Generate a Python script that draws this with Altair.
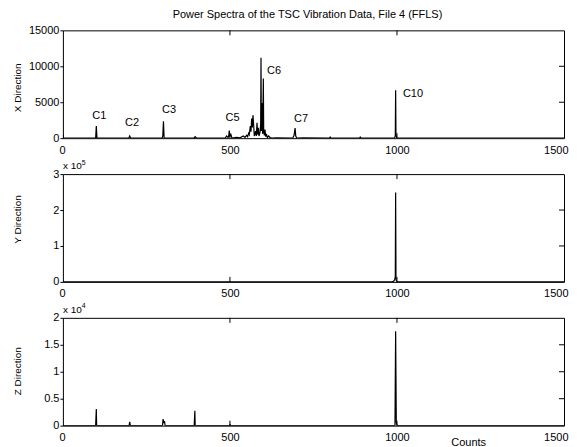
import altair as alt
import pandas as pd

FONT = "Liberation Sans"
W = 502
H = 108

title_text = ["Power Spectra of the TSC Vibration Data, File 4 (FFLS)"]

# X direction spectrum (counts, power)
x_freq = [0, 1, 3, 98, 100, 102, 197, 200, 203, 297, 299, 301, 303, 392, 396, 400,
          486, 490, 494, 496, 498, 500, 503, 506, 520, 530, 540, 545, 550, 553, 556,
          558, 561, 563, 565, 567, 569, 571, 573, 575, 577, 579, 581, 583, 585, 587,
          590, 592, 593, 594, 596, 597, 598, 600, 601, 603, 605, 607, 609, 612, 616,
          620, 625, 640, 688, 692, 695, 697, 700, 720, 798, 800, 802, 888, 890, 892,
          993, 995, 996, 997, 999, 1002, 1500]
x_power = [500, 100, 0, 0, 1700, 0, 0, 300, 0, 0, 300, 2350, 0, 0, 200, 0,
           0, 300, 100, 200, 1070, 300, 500, 0, 100, 50, 300, 100, 400, 200, 700,
           500, 1670, 900, 2740, 1500, 3200, 1800, 300, 600, 970, 300, 2130, 500, 1430, 300,
           800, 2000, 11200, 1000, 4900, 1500, 600, 8290, 1000, 400, 1200, 200, 600, 100, 300,
           100, 0, 50, 0, 400, 1400, 300, 0, 50, 0, 150, 0, 0, 150, 0,
           0, 400, 6670, 500, 100, 0, 0]

# Y direction spectrum
y_freq = [0, 985, 990, 993, 995, 996, 997, 998, 1000, 1005, 1500]
y_power = [0, 0, 2000, 6000, 15000, 249000, 12000, 4000, 1000, 0, 0]

# Z direction spectrum
z_freq = [0, 98, 100, 101, 198, 200, 202, 298, 300, 302, 304, 306, 393, 395, 396,
          498, 500, 502, 994, 996, 998, 1001, 1500]
z_power = [0, 0, 3075, 0, 0, 680, 0, 0, 1230, 500, 860, 0, 0, 2770, 0,
           0, 200, 0, 0, 17500, 500, 0, 0]

# peak labels in the X panel
peak_labels = ["C1", "C2", "C3", "C5", "C6", "C7", "C10"]
peak_label_x = [109, 207, 318, 508, 632, 713, 1048]
peak_label_y = [3150, 2080, 3900, 2860, 9350, 2600, 6160]

x_ticks = [0, 500, 1000, 1500]
x_inner_ticks = [500, 1000]


def panel(freq, power, ydom, yvals, yinner, yexpr, ytitle, ytitle_y, xtitle=None,
          exponent=None, labels=None, title=None):
    df = pd.DataFrame({"f": freq, "p": power})
    xs = alt.Scale(domain=[0, 1500], nice=False, zero=False)
    ys = alt.Scale(domain=ydom, nice=False, zero=False)
    xa = dict(values=x_ticks, format="d", tickSize=0, labelPadding=6,
              labelFlush=True, labelFlushOffset=4, grid=False, domain=False,
              labelFontSize=11, labelColor="black", labelFont=FONT,
              labelOverlap=False)
    if xtitle:
        xa.update(title=xtitle, titleX=406, titleY=16.5, titleBaseline="middle",
                  titleAlign="center", titleFontSize=11, titleFontWeight="normal",
                  titleFont=FONT, titleColor="black")
    else:
        xa.update(title=None)
    ya = dict(values=yvals, tickSize=3, tickColor="black", labelPadding=1,
              grid=False, domain=False, labelFontSize=11, labelColor="black",
              labelFont=FONT, labelOverlap=False, title=ytitle, titleX=-45,
              titleY=ytitle_y, titleAngle=-90, titleBaseline="middle",
              titleAlign="center", titleFontSize=10, titleFontWeight="normal",
              titleFont=FONT, titleColor="black")
    if yexpr:
        ya.update(labelExpr=yexpr)
    else:
        ya.update(format="d")
    xaxis = alt.Axis(**xa)
    yaxis = alt.Axis(**ya)
    line = alt.Chart(df).mark_line(color="black", strokeWidth=1.2, clip=True).encode(
        x=alt.X("f:Q", scale=xs, axis=xaxis),
        y=alt.Y("p:Q", scale=ys, axis=yaxis),
    )
    xt = pd.DataFrame({"f": x_inner_ticks})
    top_ticks = alt.Chart(xt).mark_rule(color="black").encode(
        x=alt.X("f:Q", scale=xs, axis=xaxis), y=alt.value(0), y2=alt.value(5))
    bot_ticks = alt.Chart(xt).mark_rule(color="black").encode(
        x=alt.X("f:Q", scale=xs, axis=xaxis), y=alt.value(H), y2=alt.value(H - 5))
    yt = pd.DataFrame({"p": yinner})
    right_ticks = alt.Chart(yt).mark_rule(color="black").encode(
        y=alt.Y("p:Q", scale=ys, axis=yaxis), x=alt.value(W), x2=alt.value(W - 5))
    layers = [line, top_ticks, bot_ticks, right_ticks]
    if exponent:
        base_df = pd.DataFrame({"t": ["x 10"]})
        sup_df = pd.DataFrame({"t": [exponent]})
        layers.append(alt.Chart(base_df).mark_text(
            align="left", baseline="middle", fontSize=10, font=FONT, color="black"
        ).encode(x=alt.value(0), y=alt.value(-8), text="t:N"))
        layers.append(alt.Chart(sup_df).mark_text(
            align="left", baseline="middle", fontSize=7, font=FONT, color="black"
        ).encode(x=alt.value(19), y=alt.value(-11.5), text="t:N"))
    if labels:
        ldf = pd.DataFrame({"f": peak_label_x, "p": peak_label_y, "t": peak_labels})
        layers.append(alt.Chart(ldf).mark_text(
            align="center", baseline="middle", fontSize=11, font=FONT, color="black"
        ).encode(x=alt.X("f:Q", scale=xs, axis=xaxis),
                 y=alt.Y("p:Q", scale=ys, axis=yaxis), text="t:N"))
    if title:
        tdf = pd.DataFrame({"t": title})
        layers.append(alt.Chart(tdf).mark_text(
            align="center", baseline="middle", fontSize=11, font=FONT, color="black"
        ).encode(x=alt.value(W / 2 - 6), y=alt.value(-15), text="t:N"))
    return alt.layer(*layers).properties(width=W, height=H)


p1 = panel(x_freq, x_power, [0, 15000], [0, 5000, 10000, 15000], [5000, 10000],
           None, "X Direction", 57, labels=True, title=title_text)
p2 = panel(y_freq, y_power, [0, 300000], [0, 100000, 200000, 300000],
           [100000, 200000], "'' + (datum.value / 100000)", "Y Direction", 45,
           exponent="5")
p3 = panel(z_freq, z_power, [0, 20000], [0, 5000, 10000, 15000, 20000],
           [5000, 10000, 15000], "'' + (datum.value / 10000)", "Z Direction", 53,
           xtitle="Counts", exponent="4")

chart = alt.vconcat(p1, p2, p3, spacing=36, bounds="flush").properties(
    padding={"left": 4, "top": 0, "right": 0, "bottom": 0}
).configure(background="white").configure_view(
    stroke="black", strokeWidth=1
).configure_axis(titleFontWeight="normal")

chart.save("out.html", embed_options={"renderer": "svg", "actions": False})
